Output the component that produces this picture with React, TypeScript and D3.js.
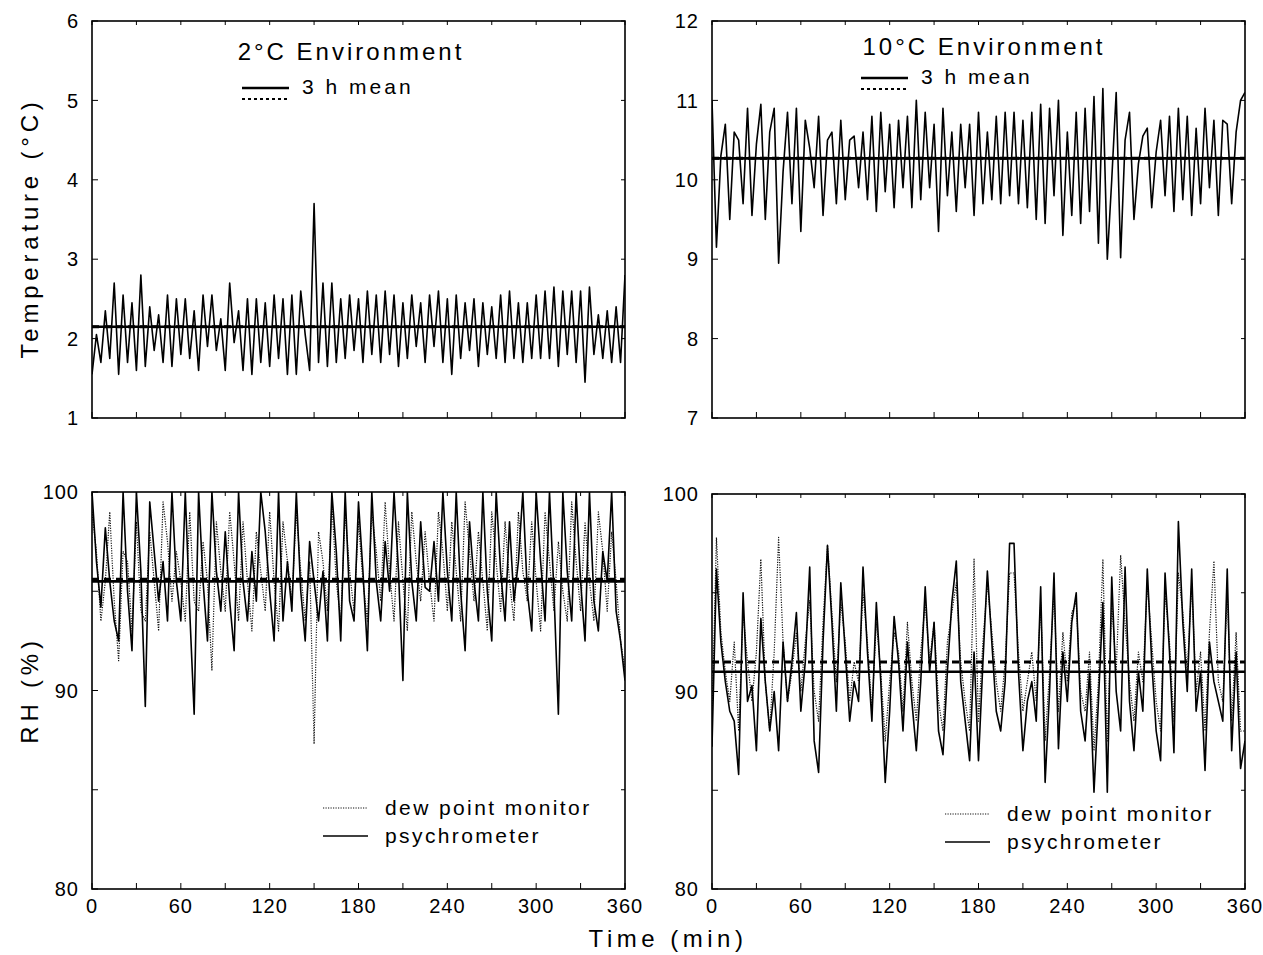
import React from "react";
import * as d3 from "d3";

// sampling interval of the logged readings (min)
const SAMPLE_MIN = 3;

const X_TICKS = [0, 60, 120, 180, 240, 300, 360];
const X_MINOR = [30, 90, 150, 210, 270, 330];
const TEMP2_TICKS = [1, 2, 3, 4, 5, 6];
const TEMP10_TICKS = [7, 8, 9, 10, 11, 12];
const RH_TICKS = [80, 90, 100];
const RH_MINOR = [85, 95];

// 2 C environment, air temperature (C)
const temp2 = [
  1.55, 2.05, 1.7, 2.35, 1.75, 2.7, 1.55, 2.55, 1.7, 2.45,
  1.6, 2.8, 1.65, 2.4, 1.85, 2.3, 1.7, 2.55, 1.65, 2.5,
  1.8, 2.5, 1.75, 2.35, 1.6, 2.55, 1.9, 2.55, 1.85, 2.25,
  1.6, 2.7, 1.95, 2.35, 1.6, 2.5, 1.55, 2.5, 1.7, 2.45,
  1.65, 2.55, 1.75, 2.5, 1.55, 2.55, 1.55, 2.6, 2.05, 1.6,
  3.7, 1.7, 2.7, 1.65, 2.7, 1.7, 2.5, 1.75, 2.55, 1.85,
  2.5, 1.7, 2.6, 1.8, 2.55, 1.7, 2.6, 1.8, 2.55, 1.65,
  2.45, 1.75, 2.55, 1.9, 2.45, 1.7, 2.55, 1.9, 2.6, 1.7,
  2.5, 1.55, 2.55, 1.75, 2.45, 1.85, 2.5, 1.65, 2.45, 1.8,
  2.4, 1.75, 2.55, 1.7, 2.6, 1.75, 2.45, 1.7, 2.45, 1.75,
  2.55, 1.75, 2.6, 1.75, 2.65, 1.65, 2.6, 1.8, 2.6, 1.7,
  2.6, 1.45, 2.65, 1.8, 2.3, 1.75, 2.35, 1.7, 2.4, 1.7,
  2.8,
];

// 10 C environment, air temperature (C)
const temp10 = [
  11.0, 9.15, 10.3, 10.7, 9.5, 10.6, 10.5, 9.7, 10.9, 9.55,
  10.45, 10.95, 9.5, 10.6, 10.9, 8.95, 10.1, 10.85, 9.7, 10.9,
  9.35, 10.75, 10.4, 9.9, 10.8, 9.55, 10.5, 10.6, 9.7, 10.75,
  9.75, 10.5, 10.55, 9.9, 10.6, 9.75, 10.8, 9.6, 10.85, 9.85,
  10.7, 9.65, 10.75, 9.9, 10.8, 9.65, 11.0, 9.75, 10.85, 9.9,
  10.7, 9.35, 10.9, 9.8, 10.6, 9.6, 10.7, 9.9, 10.7, 9.55,
  10.85, 9.7, 10.6, 9.75, 10.8, 9.7, 10.85, 9.8, 10.85, 9.7,
  10.75, 9.65, 10.85, 9.5, 10.95, 9.45, 10.9, 9.8, 11.0, 9.3,
  10.6, 9.55, 10.85, 9.45, 10.9, 9.6, 11.05, 9.2, 11.15, 9.0,
  10.0, 11.1, 9.02, 10.5, 10.85, 9.5, 10.2, 10.55, 10.65, 9.65,
  10.35, 10.75, 9.8, 10.8, 9.6, 10.9, 9.75, 10.8, 9.55, 10.65,
  9.7, 10.9, 9.9, 10.75, 9.55, 10.75, 10.7, 9.7, 10.6, 11.0,
  11.1,
];

// 2 C environment, relative humidity (%)
const rh2Psy = [
  100, 96.5, 94.2, 98.2, 95.5, 93.5, 92.5, 100, 95.0, 92.0,
  100, 96, 89.2, 99.5, 97, 94.5, 96.5, 93.5, 100, 95.5,
  93.5, 100, 94, 88.8, 100, 95.5, 92.5, 100, 96, 94,
  98, 94.5, 92, 100, 95.5, 93.5, 97, 94.5, 100, 98,
  95, 92.5, 100, 93.5, 96.5, 94, 100, 95, 92.5, 97.5,
  95.5, 93.5, 96, 92.5, 100, 97, 92.5, 100, 94.5, 93.5,
  99.5, 96, 92, 100, 95.5, 93.5, 97.5, 95, 100, 96,
  90.5, 100, 95.5, 93.5, 98.5, 95.2, 95.0, 97.5, 94.5, 100,
  96, 93.5, 100, 95, 92, 98.5, 95.5, 93.5, 100, 95,
  92.5, 100, 96, 93.5, 98.5, 94.5, 96.5, 100, 95, 93,
  100, 96.5, 93.5, 100, 95, 88.8, 100, 96, 93.5, 100,
  95.5, 92.5, 100, 94.5, 93, 97, 95.5, 100, 94, 92.5,
  90.5,
];

const rh2Dew = [
  99, 97, 93.5, 95.5, 99, 94.5, 91.5, 97, 96.5, 93,
  98.5, 94, 93.5, 98, 95.5, 93, 99.5, 97.5, 94.5, 97,
  95.5, 93.5, 99, 94.5, 94, 97.5, 95.5, 91, 98.5, 96,
  94, 99, 96.5, 93.5, 98.5, 95.5, 93, 98, 96, 94,
  99, 95.5, 93, 98.5, 96.5, 94.5, 99, 96, 93.5, 96.5,
  87.3, 98, 96.5, 94, 99.5, 95.5, 93.5, 99, 96, 94,
  98.5, 95.5, 93.5, 99, 97, 94.5, 99.5, 96, 93.5, 98.5,
  95.5, 93, 99, 96.5, 94.5, 98, 95.5, 93.5, 99, 97,
  94, 98.5, 96, 93.5, 99.5, 97, 94.5, 98, 95.5, 93,
  99, 96.5, 94, 98.5, 95.5, 93.5, 99, 96, 94.5, 98.5,
  95.5, 93, 99, 96.5, 94, 97.5, 95, 93.5, 99.5, 96.5,
  94, 98.5, 95.5, 93.5, 99, 97, 94, 98, 95.5, 92.5,
  91,
];

// 10 C environment, relative humidity (%)
const rh10Psy = [
  87.2, 96.2, 92.5, 90.5, 89.0, 88.5, 85.8, 95.0, 89.5, 90.3,
  87.0, 93.7, 90.5, 88.0, 90.0, 87.0, 92.5, 89.5, 91.5, 94.0,
  89.0, 91.5, 96.3, 87.5, 85.9, 92.5, 97.4, 93.5, 89.0, 95.5,
  92.0, 88.5, 90.5, 89.5, 96.3, 92.0, 88.5, 94.5, 90.5, 85.4,
  89.0, 93.8, 91.5, 88.0, 92.5, 89.5, 87.0, 90.5, 95.3, 91.0,
  93.5, 88.0, 86.8, 91.0, 94.5, 96.6, 90.5, 88.5, 86.5, 92.0,
  86.5, 91.5, 96.1, 92.5, 89.0, 88.0, 90.5, 97.5, 97.5, 91.0,
  87.0, 89.5, 90.5, 88.5, 95.3, 85.4, 90.0, 96.0, 87.1, 92.0,
  89.5, 93.5, 95.0, 89.0, 87.5, 91.0, 84.9, 89.5, 94.5, 84.9,
  95.8, 90.0, 88.0, 96.3, 89.5, 87.0, 91.0, 89.0, 96.2, 91.5,
  88.0, 86.5, 96.0, 92.0, 86.9, 98.6, 93.5, 90.0, 96.2, 89.0,
  91.0, 86.0, 92.5, 90.5, 89.5, 88.5, 96.2, 87.0, 92.0, 86.1,
  87.5,
];

const rh10Dew = [
  88.5, 97.8, 93.0, 91.0, 89.5, 92.5, 88.0, 94.0, 91.5, 89.5,
  92.0, 96.7, 90.5, 88.0, 92.0, 97.8, 92.5, 89.5, 91.0, 93.0,
  90.0, 92.5, 94.6, 90.0, 88.5, 93.5, 97.4, 94.0, 90.5, 94.5,
  92.5, 89.5, 91.5, 90.5, 95.0, 92.5, 89.0, 93.5, 91.0, 87.5,
  90.5, 93.0, 92.0, 89.0, 93.5, 90.5, 88.5, 92.0, 94.5, 91.5,
  93.5, 89.5, 88.0, 92.5, 94.0, 95.5, 91.5, 89.5, 88.0, 96.7,
  88.5, 92.5, 95.5, 93.0, 90.5, 89.0, 91.5, 96.0, 96.0, 92.0,
  89.0, 90.5, 92.0, 89.5, 94.5, 87.5, 91.0, 95.0, 89.0, 93.0,
  90.5, 94.0, 94.5, 90.0, 89.0, 92.0, 87.0, 90.5, 96.7, 87.5,
  94.5, 91.0, 96.9, 93.5, 90.5, 88.5, 92.0, 90.5, 95.5, 92.5,
  89.5, 88.0, 95.0, 92.5, 88.5, 96.0, 94.0, 91.0, 95.5, 90.0,
  92.0, 88.0, 93.0, 96.6, 90.5, 89.5, 95.0, 88.5, 93.0, 88.0,
  88.0,
];

// 3 h means: [solid, dashed]
const mean2Temp = [2.15, 2.15];
const mean10Temp = [10.27, 10.27];
const mean2Rh = [95.5, 95.6];
const mean10Rh = [91.0, 91.5];

const FONT = "'Liberation Sans', Arial, sans-serif";

type Series = { values: number[]; dotted?: boolean };

type PanelProps = {
  id: string;
  left: number;
  top: number;
  width: number;
  height: number;
  yDomain: [number, number];
  yTicks: number[];
  yMinor?: number[];
  series: Series[];
  means: number[];
  xLabels?: boolean;
};

const Panel = ({ id, left, top, width, height, yDomain, yTicks, yMinor = [], series, means, xLabels }: PanelProps) => {
  const x = d3.scaleLinear().domain([0, 360]).range([left, left + width]);
  const y = d3.scaleLinear().domain(yDomain).range([top + height, top]);
  const line = d3
    .line<number>()
    .x((_, i) => x(i * SAMPLE_MIN))
    .y((d) => y(d));
  const bottom = top + height;
  const right = left + width;

  return (
    <g>
      <defs>
        <clipPath id={id}>
          <rect x={left} y={top} width={width} height={height} />
        </clipPath>
      </defs>
      <g clipPath={`url(#${id})`} fill='none'>
        {series.map((s, i) => (
          <path
            key={i}
            d={line(s.values) || ""}
            stroke={s.dotted ? "#111" : "#000"}
            strokeWidth={s.dotted ? 1.2 : 1.6}
            strokeDasharray={s.dotted ? "1.2 1.3" : undefined}
            strokeLinejoin='round'
          />
        ))}
        <line x1={left} x2={right} y1={y(means[1])} y2={y(means[1])} stroke='#000' strokeWidth={3} strokeDasharray='7 5' />
        <line x1={left} x2={right} y1={y(means[0])} y2={y(means[0])} stroke='#000' strokeWidth={2.6} />
      </g>

      <rect x={left} y={top} width={width} height={height} fill='none' stroke='#000' strokeWidth={1.6} />

      {/* ticks */}
      {[...X_TICKS, ...X_MINOR].map((t) => (
        <g key={"x" + t} stroke='#000' strokeWidth={1}>
          <line x1={x(t)} x2={x(t)} y1={bottom} y2={bottom - 6} />
          <line x1={x(t)} x2={x(t)} y1={top} y2={top + 4} />
        </g>
      ))}
      {[...yTicks, ...yMinor].map((t) => (
        <g key={"y" + t} stroke='#000' strokeWidth={1}>
          <line x1={left} x2={left + 6} y1={y(t)} y2={y(t)} />
          <line x1={right} x2={right - 4} y1={y(t)} y2={y(t)} />
        </g>
      ))}

      {yTicks.map((t) => (
        <text
          key={"yl" + t}
          x={left - 13}
          y={y(t)}
          dy='0.36em'
          textAnchor='end'
          fontSize={20}
          letterSpacing={1}
          fontFamily={FONT}
        >
          {t}
        </text>
      ))}
      {xLabels &&
        X_TICKS.map((t) => (
          <text
            key={"xl" + t}
            x={x(t)}
            y={bottom + 24}
            textAnchor='middle'
            fontSize={20}
            letterSpacing={1}
            fontFamily={FONT}
          >
            {t}
          </text>
        ))}
    </g>
  );
};

const MeanKey = ({ x0, y0 }: { x0: number; y0: number }) => (
  <g>
    <line x1={x0} x2={x0 + 47} y1={y0} y2={y0} stroke='#000' strokeWidth={2.6} />
    <line x1={x0} x2={x0 + 47} y1={y0 + 11} y2={y0 + 11} stroke='#000' strokeWidth={2.2} strokeDasharray='3 3' />
    <text x={x0 + 60} y={y0 + 6} fontSize={21} letterSpacing={3} fontFamily={FONT}>
      3 h mean
    </text>
  </g>
);

const SensorKey = ({ x0, y0 }: { x0: number; y0: number }) => (
  <g fontSize={21} letterSpacing={2.4} fontFamily={FONT}>
    <line x1={x0} x2={x0 + 45} y1={y0} y2={y0} stroke='#111' strokeWidth={1.2} strokeDasharray='1.2 1.3' />
    <text x={x0 + 62} y={y0 + 7}>dew point monitor</text>
    <line x1={x0} x2={x0 + 45} y1={y0 + 28} y2={y0 + 28} stroke='#000' strokeWidth={1.5} />
    <text x={x0 + 62} y={y0 + 35}>psychrometer</text>
  </g>
);

const App = () => {
  return (
    <div style={{ position: "absolute", left: 0, top: 0 }}>
      <svg width='1263' height='955' style={{ display: "block", background: "#fff" }}>
        <Panel
          id='c1'
          left={92}
          top={21}
          width={533}
          height={397}
          yDomain={[1, 6]}
          yTicks={TEMP2_TICKS}
          series={[{ values: temp2 }]}
          means={mean2Temp}
        />
        <Panel
          id='c2'
          left={712}
          top={21}
          width={533}
          height={397}
          yDomain={[7, 12]}
          yTicks={TEMP10_TICKS}
          series={[{ values: temp10 }]}
          means={mean10Temp}
        />
        <Panel
          id='c3'
          left={92}
          top={492}
          width={533}
          height={397}
          yDomain={[80, 100]}
          yTicks={RH_TICKS}
          yMinor={RH_MINOR}
          series={[{ values: rh2Dew, dotted: true }, { values: rh2Psy }]}
          means={mean2Rh}
          xLabels
        />
        <Panel
          id='c4'
          left={712}
          top={494}
          width={533}
          height={395}
          yDomain={[80, 100]}
          yTicks={RH_TICKS}
          yMinor={RH_MINOR}
          series={[{ values: rh10Dew, dotted: true }, { values: rh10Psy }]}
          means={mean10Rh}
          xLabels
        />

        <g fontFamily={FONT} fontSize={24} letterSpacing={3}>
          <text x={351} y={60} textAnchor='middle'>2°C Environment</text>
          <text x={984} y={55} textAnchor='middle'>10°C Environment</text>
        </g>
        <MeanKey x0={242} y0={88} />
        <MeanKey x0={861} y0={78} />
        <SensorKey x0={323} y0={808} />
        <SensorKey x0={945} y0={814} />

        <g fontFamily={FONT} fontSize={24} letterSpacing={4.8}>
          <text transform='translate(38,228) rotate(-90)' textAnchor='middle'>Temperature (°C)</text>
          <text transform='translate(38,690) rotate(-90)' textAnchor='middle'>RH (%)</text>
          <text x={668} y={947} textAnchor='middle' letterSpacing={4.5}>Time (min)</text>
        </g>
      </svg>
    </div>
  );
};

export default App;
